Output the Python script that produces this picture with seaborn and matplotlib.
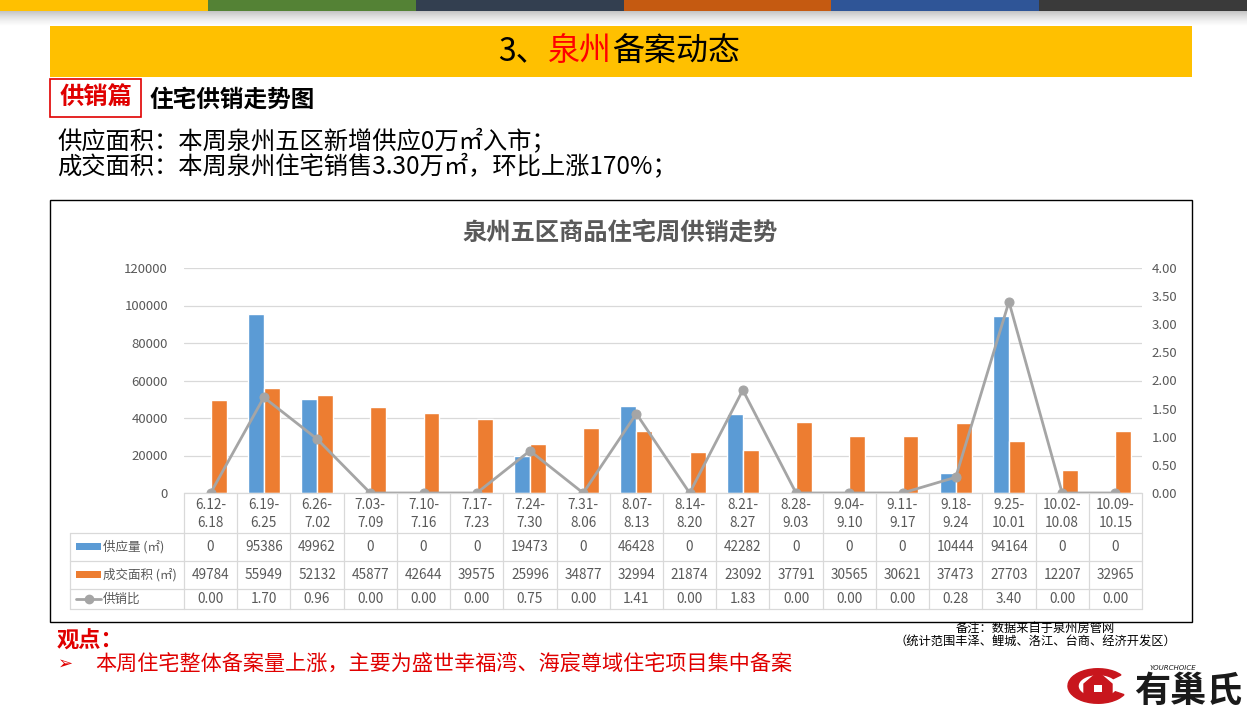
import numpy as np
import pandas as pd
import matplotlib
matplotlib.use("Agg")
import matplotlib.pyplot as plt
import matplotlib.transforms as mtransforms
from matplotlib.patches import Rectangle, Wedge, Polygon
from matplotlib.lines import Line2D
from matplotlib.ticker import StrMethodFormatter
import seaborn as sns

# ---------------- data ----------------
weeks = ["6.12-6.18", "6.19-6.25", "6.26-7.02", "7.03-7.09", "7.10-7.16", "7.17-7.23",
         "7.24-7.30", "7.31-8.06", "8.07-8.13", "8.14-8.20", "8.21-8.27", "8.28-9.03",
         "9.04-9.10", "9.11-9.17", "9.18-9.24", "9.25-10.01", "10.02-10.08", "10.09-10.15"]
supply = [0, 95386, 49962, 0, 0, 0, 19473, 0, 46428, 0, 42282, 0, 0, 0, 10444, 94164, 0, 0]
sales = [49784, 55949, 52132, 45877, 42644, 39575, 25996, 34877, 32994, 21874, 23092,
         37791, 30565, 30621, 37473, 27703, 12207, 32965]
ratio = [0.00, 1.70, 0.96, 0.00, 0.00, 0.00, 0.75, 0.00, 1.41, 0.00, 1.83, 0.00, 0.00,
         0.00, 0.28, 3.40, 0.00, 0.00]
series_names = ["供应量 (㎡)", "成交面积 (㎡)", "供销比"]
left_ticks = [0, 20000, 40000, 60000, 80000, 100000, 120000]
right_ticks = [0.0, 0.5, 1.0, 1.5, 2.0, 2.5, 3.0, 3.5, 4.0]

# ---------------- style ----------------
sns.set_theme(style="white")
plt.rcParams["font.family"] = ["Noto Sans CJK SC", "DejaVu Sans"]
plt.rcParams["axes.unicode_minus"] = False

BLUE, ORANGE, GRAY = "#5B9BD5", "#ED7D31", "#A5A5A5"
TXT = "#595959"
GRID = "#D9D9D9"

W, H = 1247, 718
fig = plt.figure(figsize=(W / 100, H / 100), dpi=100)


def fx(x):
    return x / W


def fy(y):
    return 1 - y / H


def frect(x0, y0, x1, y1, **kw):
    fig.add_artist(Rectangle((fx(x0), fy(y1)), fx(x1) - fx(x0), fy(y0) - fy(y1),
                             transform=fig.transFigure, **kw))


def fline(x0, y0, x1, y1, **kw):
    fig.add_artist(Line2D([fx(x0), fx(x1)], [fy(y0), fy(y1)], transform=fig.transFigure, **kw))


# ---------------- slide decoration ----------------
strip_cols = ["#FFC000", "#548235", "#333F50", "#C55A11", "#2F5597", "#3A3A3A"]
for i, c in enumerate(strip_cols):
    frect(i * W / 6, 0, (i + 1) * W / 6 + 1, 11, color=c, lw=0)
# soft shadow under strip
sh = fig.add_axes([0, fy(26), 1, (26 - 11) / H])
grad = np.linspace(0.55, 0, 50)[:, None] * np.ones((1, 10))
sh.imshow(grad, aspect="auto", cmap="Greys", vmin=0, vmax=1.6, extent=[0, 1, 0, 1])
sh.axis("off")

# banner
frect(50, 26, 1192, 77, color="#FFC000", lw=0)
fig.text(fx(548), fy(51), "3、", ha="right", va="center", fontsize=23, color="black")
fig.text(fx(580), fy(51), "泉州", ha="center", va="center", fontsize=23, color="#FF0000")
fig.text(fx(612), fy(51), "备案动态", ha="left", va="center", fontsize=23, color="black")

# section label
frect(50, 79, 141, 117, facecolor="white", edgecolor="#E00000", lw=1.2)
fig.text(fx(95.5), fy(98), "供销篇", ha="center", va="center", fontsize=17.5,
         color="#E00000", fontweight="bold")
fig.text(fx(149), fy(100), "住宅供销走势图", ha="left", va="center", fontsize=17,
         color="black", fontweight="bold")

fig.text(fx(57), fy(154.5),
         "供应面积：本周泉州五区新增供应0万㎡入市；\n成交面积：本周泉州住宅销售3.30万㎡，环比上涨170%；",
         ha="left", va="center", fontsize=17.5, color="black", linespacing=0.95)

# chart frame
frect(50, 200, 1192, 622, facecolor="none", edgecolor="black", lw=1)
fig.text(fx(620), fy(233), "泉州五区商品住宅周供销走势", ha="center", va="center",
         fontsize=17.5, color=TXT, fontweight="bold")

# ---------------- chart ----------------
ax = fig.add_axes([fx(184), fy(493), fx(1142) - fx(184), fy(268) - fy(493)])
df = pd.DataFrame({
    "week": weeks * 2,
    "value": supply + sales,
    "series": [series_names[0]] * len(weeks) + [series_names[1]] * len(weeks),
})
sns.barplot(data=df, x="week", y="value", hue="series", order=weeks,
            hue_order=series_names[:2], palette=[BLUE, ORANGE], saturation=1,
            width=0.6, gap=0, legend=False, ax=ax, zorder=2)
ax.set_ylim(0, 120000)
ax.set_yticks(left_ticks)
ax.yaxis.grid(True, color=GRID, lw=0.9)
ax.set_axisbelow(True)
for s in ax.spines.values():
    s.set_visible(False)
ax.tick_params(axis="y", length=0, pad=11.5, labelsize=9.5, labelcolor=TXT)
ax.tick_params(axis="x", length=0, labelbottom=False)
ax.set_xlabel("")
ax.set_ylabel("")

ax2 = ax.twinx()
sns.lineplot(x=np.arange(len(weeks)), y=ratio, ax=ax2, color=GRAY, lw=2,
             marker="o", markersize=6.5, markeredgecolor=GRAY, markerfacecolor=GRAY)
ax2.set_ylim(0, 4)
ax2.set_yticks(right_ticks)
ax2.yaxis.set_major_formatter(StrMethodFormatter("{x:.2f}"))
ax2.tick_params(axis="y", length=0, pad=7, labelsize=9.5, labelcolor=TXT)
for s in ax2.spines.values():
    s.set_visible(False)
ax2.set_xlim(-0.5, len(weeks) - 0.5)
ax.set_xlim(-0.5, len(weeks) - 0.5)

# ---------------- data table ----------------
bt = mtransforms.blended_transform_factory(ax.transData, fig.transFigure)
n = len(weeks)
for i in range(n + 1):
    fig.add_artist(Line2D([i - 0.5, i - 0.5], [fy(493), fy(609)], transform=bt,
                          color=GRID, lw=0.9))
fline(70, 533, 70, 609, color=GRID, lw=0.9)
for yy in (533, 561, 589, 609):
    fline(70, yy, 1142, yy, color=GRID, lw=0.9)
fline(184, 493, 1142, 493, color=GRID, lw=0.9)

tfs = 9.8
for i, w in enumerate(weeks):
    a, b = w.split("-")
    fig.text(i, fy(505), a + "-", transform=bt, ha="center", va="center", fontsize=tfs, color=TXT)
    fig.text(i, fy(523), b, transform=bt, ha="center", va="center", fontsize=tfs, color=TXT)
    fig.text(i, fy(547), f"{supply[i]}", transform=bt, ha="center", va="center",
             fontsize=tfs, color=TXT)
    fig.text(i, fy(575), f"{sales[i]}", transform=bt, ha="center", va="center",
             fontsize=tfs, color=TXT)
    fig.text(i, fy(599), f"{ratio[i]:.2f}", transform=bt, ha="center", va="center",
             fontsize=tfs, color=TXT)

# row labels with legend keys
frect(76, 543, 101, 550, color=BLUE, lw=0)
frect(76, 571, 101, 578, color=ORANGE, lw=0)
fline(76, 599, 101, 599, color=GRAY, lw=2)
fig.add_artist(Line2D([fx(88.5)], [fy(599)], transform=fig.transFigure, marker="o",
                      markersize=6, color=GRAY))
fig.text(fx(103), fy(547), series_names[0], ha="left", va="center", fontsize=9, color=TXT)
fig.text(fx(103), fy(575), series_names[1], ha="left", va="center", fontsize=9, color=TXT)
fig.text(fx(103), fy(599), series_names[2], ha="left", va="center", fontsize=9, color=TXT)

# ---------------- bottom notes ----------------
fig.text(fx(57), fy(641), "观点：", ha="left", va="center", fontsize=16, color="#E00000",
         fontweight="bold")
fig.text(fx(58), fy(664), "➢", ha="left", va="center", fontsize=13, color="#E00000",
         family="DejaVu Sans")
fig.text(fx(95), fy(664), "本周住宅整体备案量上涨，主要为盛世幸福湾、海宸尊域住宅项目集中备案",
         ha="left", va="center", fontsize=15.2, color="#E00000")

fig.text(fx(1035), fy(635), "备注：数据来自于泉州房管网\n（统计范围丰泽、鲤城、洛江、台商、经济开发区）",
         ha="center", va="center", fontsize=8.8, color="black", linespacing=1.1)

# ---------------- logo ----------------
lx, ly = 1098, 686
fig.add_artist(Wedge((fx(lx), fy(ly)), fx(30), 40, 330, width=fx(10),
                     transform=fig.transFigure, color="#C8161D"))
fig.add_artist(Polygon([(fx(lx - 14), fy(ly + 12)), (fx(lx - 14), fy(ly - 2)),
                        (fx(lx), fy(ly - 14)), (fx(lx + 14), fy(ly - 2)),
                        (fx(lx + 14), fy(ly + 12))],
                       closed=True, transform=fig.transFigure, color="#C8161D"))
frect(lx - 4, ly - 1, lx + 4, ly + 6, color="white", lw=0)
fig.text(fx(1134), fy(691), "有巢氏", ha="left", va="center", fontsize=26, color="#1a1a1a",
         fontweight="bold")
fig.text(fx(1150), fy(668), "YOURCHOICE", ha="left", va="center", fontsize=5,
         color="#1a1a1a", style="italic", family="DejaVu Sans")

fig.savefig("out.png", dpi=100)
